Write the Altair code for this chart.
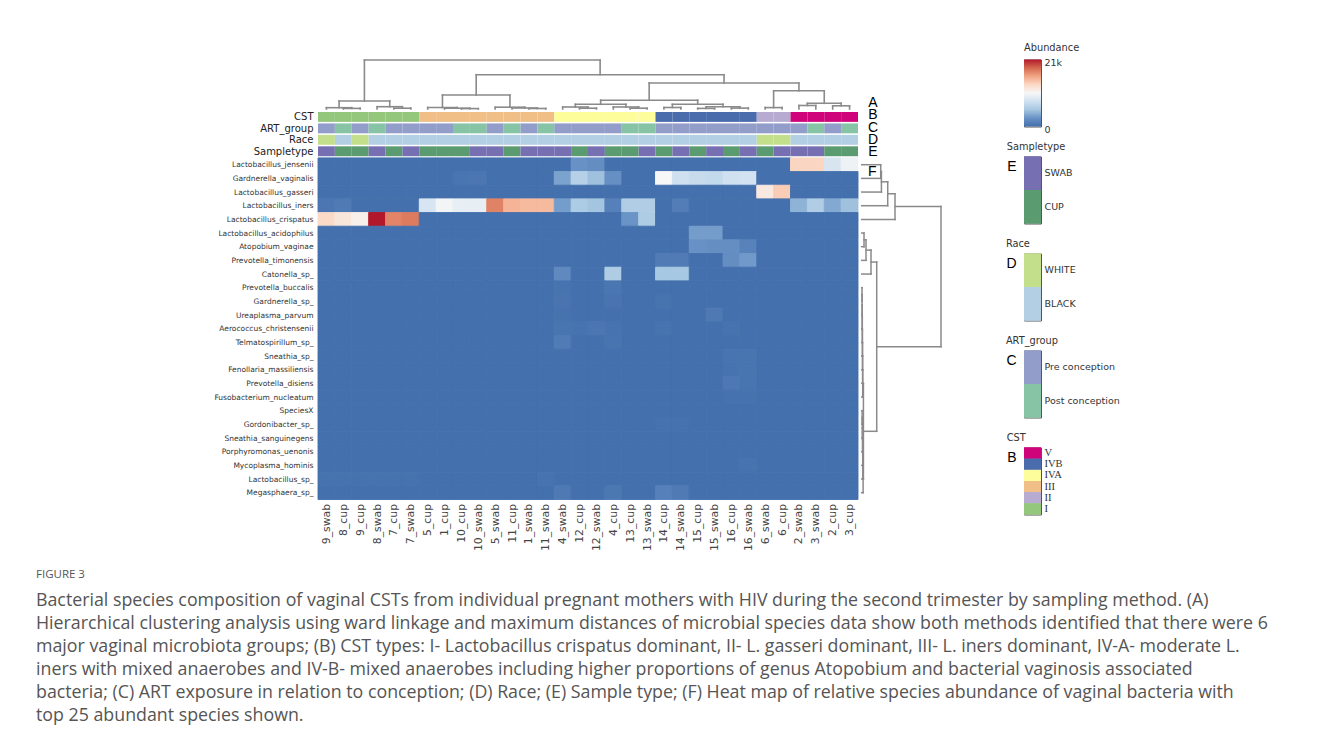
import json
import altair as alt
import pandas as pd

# ---------------- data ----------------
samples = ["9_swab", "8_cup", "9_cup", "8_swab", "7_cup", "7_swab", "5_cup", "1_cup",
           "10_cup", "10_swab", "5_swab", "11_cup", "1_swab", "11_swab", "4_swab", "12_cup",
           "12_swab", "4_cup", "13_cup", "13_swab", "14_cup", "14_swab", "15_cup", "15_swab",
           "16_cup", "16_swab", "6_swab", "6_cup", "2_swab", "3_swab", "2_cup", "3_cup"]

species = ["Lactobacillus_jensenii", "Gardnerella_vaginalis", "Lactobacillus_gasseri",
           "Lactobacillus_iners", "Lactobacillus_crispatus", "Lactobacillus_acidophilus",
           "Atopobium_vaginae", "Prevotella_timonensis", "Catonella_sp_", "Prevotella_buccalis",
           "Gardnerella_sp_", "Ureaplasma_parvum", "Aerococcus_christensenii",
           "Telmatospirillum_sp_", "Sneathia_sp_", "Fenollaria_massiliensis",
           "Prevotella_disiens", "Fusobacterium_nucleatum", "SpeciesX", "Gordonibacter_sp_",
           "Sneathia_sanguinegens", "Porphyromonas_uenonis", "Mycoplasma_hominis",
           "Lactobacillus_sp_", "Megasphaera_sp_"]

cst = ["I", "I", "I", "I", "I", "I", "III", "III",
       "III", "III", "III", "III", "III", "III", "IVA", "IVA",
       "IVA", "IVA", "IVA", "IVA", "IVB", "IVB", "IVB", "IVB",
       "IVB", "IVB", "II", "II", "V", "V", "V", "V"]
art_group = ["Pre conception", "Post conception", "Pre conception", "Post conception",
             "Pre conception", "Pre conception", "Pre conception", "Pre conception",
             "Post conception", "Post conception", "Pre conception", "Post conception",
             "Pre conception", "Post conception", "Pre conception", "Pre conception",
             "Pre conception", "Pre conception", "Post conception", "Post conception",
             "Pre conception", "Pre conception", "Pre conception", "Pre conception",
             "Pre conception", "Pre conception", "Pre conception", "Pre conception",
             "Pre conception", "Post conception", "Pre conception", "Post conception"]
race = ["WHITE", "BLACK", "WHITE", "BLACK", "BLACK", "BLACK", "BLACK", "BLACK",
        "BLACK", "BLACK", "BLACK", "BLACK", "BLACK", "BLACK", "BLACK", "BLACK",
        "BLACK", "BLACK", "BLACK", "BLACK", "BLACK", "BLACK", "BLACK", "BLACK",
        "BLACK", "BLACK", "WHITE", "WHITE", "BLACK", "BLACK", "BLACK", "BLACK"]
sampletype = ["SWAB", "CUP", "CUP", "SWAB", "CUP", "SWAB", "CUP", "CUP",
              "CUP", "SWAB", "SWAB", "CUP", "SWAB", "SWAB", "SWAB", "CUP",
              "SWAB", "CUP", "CUP", "SWAB", "CUP", "SWAB", "CUP", "SWAB",
              "CUP", "SWAB", "CUP", "SWAB", "SWAB", "SWAB", "CUP", "CUP"]

# abundance per species, one value per sample (same order as `samples`)
ab_jensenii = [0, 0, 0, 0, 0, 0, 0, 0, 0, 0, 0, 0, 0, 0, 0, 2600,
               2300, 0, 0, 0, 0, 0, 0, 0, 0, 0, 0, 0, 13300, 13300, 8400, 9900]
ab_g_vaginalis = [0, 0, 0, 0, 0, 0, 0, 0, 400, 500, 0, 0, 0, 0, 3500, 6300,
                  5000, 2500, 0, 0, 10500, 7800, 7300, 7100, 7800, 8000, 0, 0, 0, 0, 0, 0]
ab_gasseri = [0, 0, 0, 0, 0, 0, 0, 0, 0, 0, 0, 0, 0, 0, 0, 0,
              0, 0, 0, 0, 0, 0, 0, 0, 0, 0, 11800, 13800, 0, 0, 0, 0]
ab_iners = [500, 800, 0, 0, 0, 0, 8300, 10200, 9400, 9400, 17300, 15000, 14700, 14700, 3200, 5700,
            5200, 1300, 5900, 5900, 0, 1000, 0, 0, 0, 0, 0, 0, 4300, 5900, 3800, 5000]
ab_crispatus = [13000, 12000, 11200, 21000, 17200, 17600, 0, 0, 0, 0, 0, 0, 0, 0, 0, 0,
                0, 0, 2700, 5800, 0, 0, 0, 0, 0, 0, 0, 0, 0, 0, 0, 0]
ab_acidophilus = [0, 0, 0, 0, 0, 0, 0, 0, 0, 0, 0, 0, 0, 0, 0, 0,
                  0, 0, 0, 0, 0, 0, 3200, 3200, 0, 0, 0, 0, 0, 0, 0, 0]
ab_atopobium = [0, 0, 0, 0, 0, 0, 0, 0, 0, 0, 0, 0, 0, 0, 0, 0,
                0, 0, 0, 0, 0, 0, 2600, 2400, 2400, 1400, 0, 0, 0, 0, 0, 0]
ab_p_timonensis = [0, 0, 0, 0, 0, 0, 0, 0, 0, 0, 0, 0, 0, 0, 0, 0,
                   0, 0, 0, 0, 900, 900, 0, 0, 2300, 3000, 0, 0, 0, 0, 0, 0]
ab_catonella = [0, 0, 0, 0, 0, 0, 0, 0, 0, 0, 0, 0, 0, 0, 2000, 0,
                0, 5800, 0, 0, 5400, 5400, 0, 0, 0, 0, 0, 0, 0, 0, 0, 0]
ab_p_buccalis = [0, 0, 0, 0, 0, 0, 0, 0, 0, 0, 0, 0, 0, 0, 250, 0,
                 0, 450, 0, 0, 0, 0, 0, 0, 0, 0, 0, 0, 0, 0, 0, 0]
ab_gardnerella_sp = [0, 0, 0, 0, 0, 0, 0, 0, 0, 0, 0, 0, 0, 0, 350, 0,
                     0, 350, 0, 0, 200, 0, 0, 0, 0, 0, 0, 0, 0, 0, 0, 0]
ab_ureaplasma = [0, 0, 0, 0, 0, 0, 0, 0, 0, 0, 0, 0, 0, 0, 150, 0,
                 0, 0, 0, 0, 0, 0, 0, 700, 0, 0, 0, 0, 0, 0, 0, 0]
ab_aerococcus = [0, 0, 0, 0, 0, 0, 0, 0, 0, 0, 0, 0, 0, 0, 300, 250,
                 500, 250, 0, 0, 200, 0, 0, 0, 250, 0, 0, 0, 0, 0, 0, 0]
ab_telmatospirillum = [0, 0, 0, 0, 0, 0, 0, 0, 0, 0, 0, 0, 0, 0, 900, 0,
                       0, 300, 0, 0, 0, 0, 0, 0, 0, 0, 0, 0, 0, 0, 0, 0]
ab_sneathia_sp = [0, 0, 0, 0, 0, 0, 0, 0, 0, 0, 0, 0, 0, 0, 0, 0,
                  0, 0, 0, 0, 0, 0, 0, 0, 300, 300, 0, 0, 0, 0, 0, 0]
ab_fenollaria = [0, 0, 0, 0, 0, 0, 0, 0, 0, 0, 0, 0, 0, 0, 0, 0,
                 0, 0, 0, 0, 0, 0, 0, 0, 250, 300, 0, 0, 0, 0, 0, 0]
ab_p_disiens = [0, 0, 0, 0, 0, 0, 0, 0, 0, 0, 0, 0, 0, 0, 0, 0,
                0, 0, 0, 0, 0, 0, 0, 0, 650, 300, 0, 0, 0, 0, 0, 0]
ab_fusobacterium = [0, 0, 0, 0, 0, 0, 0, 0, 0, 0, 0, 0, 0, 0, 0, 0,
                    0, 0, 0, 0, 0, 0, 0, 0, 150, 150, 0, 0, 0, 0, 0, 0]
ab_speciesx = [0, 0, 0, 0, 0, 0, 0, 0, 0, 0, 0, 0, 0, 0, 0, 0,
               0, 0, 0, 0, 0, 0, 0, 0, 0, 0, 0, 0, 0, 0, 0, 0]
ab_gordonibacter = [0, 0, 0, 0, 0, 0, 0, 0, 0, 0, 0, 0, 0, 0, 0, 0,
                    0, 0, 0, 0, 150, 150, 0, 0, 0, 0, 0, 0, 0, 0, 0, 0]
ab_s_sanguinegens = [0, 0, 0, 0, 0, 0, 0, 0, 0, 0, 0, 0, 0, 0, 0, 0,
                     0, 0, 0, 0, 0, 0, 0, 0, 0, 0, 0, 0, 0, 0, 0, 0]
ab_porphyromonas = [0, 0, 0, 0, 0, 0, 0, 0, 0, 0, 0, 0, 0, 0, 0, 0,
                    0, 0, 0, 0, 0, 0, 0, 0, 0, 0, 0, 0, 0, 0, 0, 0]
ab_mycoplasma = [0, 0, 0, 0, 0, 0, 0, 0, 0, 0, 0, 0, 0, 0, 0, 0,
                 0, 0, 0, 0, 0, 0, 0, 0, 0, 250, 0, 0, 0, 0, 0, 0]
ab_lactobacillus_sp = [150, 150, 150, 150, 150, 150, 0, 0, 0, 0, 0, 0, 0, 200, 0, 0,
                       0, 0, 0, 0, 0, 0, 0, 0, 0, 0, 0, 0, 0, 0, 0, 0]
ab_megasphaera = [0, 0, 0, 0, 0, 0, 0, 0, 0, 0, 0, 0, 0, 0, 700, 0,
                  0, 600, 0, 0, 1300, 800, 0, 0, 0, 0, 0, 0, 0, 0, 0, 0]

abundance_rows = [ab_jensenii, ab_g_vaginalis, ab_gasseri, ab_iners, ab_crispatus,
                  ab_acidophilus, ab_atopobium, ab_p_timonensis, ab_catonella, ab_p_buccalis,
                  ab_gardnerella_sp, ab_ureaplasma, ab_aerococcus, ab_telmatospirillum,
                  ab_sneathia_sp, ab_fenollaria, ab_p_disiens, ab_fusobacterium, ab_speciesx,
                  ab_gordonibacter, ab_s_sanguinegens, ab_porphyromonas, ab_mycoplasma,
                  ab_lactobacillus_sp, ab_megasphaera]

# column dendrogram: (child, child, merge distance); "mK" = K-th merge
top_merges = [
    ("8_cup", "9_cup", 0.6), ("9_swab", "m0", 1.3), ("7_cup", "7_swab", 0.8),
    ("8_swab", "m2", 2.3), ("m1", "m3", 8.0),
    ("10_cup", "10_swab", 0.4), ("1_cup", "m5", 0.8), ("5_cup", "m6", 1.5),
    ("1_swab", "11_swab", 0.5), ("11_cup", "m8", 1.0), ("5_swab", "m9", 1.8),
    ("m7", "m10", 14.0),
    ("12_cup", "12_swab", 0.8), ("4_swab", "m12", 2.0), ("13_cup", "13_swab", 0.8),
    ("4_cup", "m14", 2.0), ("m13", "m15", 4.7),
    ("14_cup", "14_swab", 1.5), ("15_cup", "15_swab", 0.6), ("16_cup", "16_swab", 0.9),
    ("m18", "m19", 2.3), ("m17", "m20", 4.7), ("m16", "m21", 8.8),
    ("6_swab", "6_cup", 1.4), ("2_swab", "3_swab", 3.5), ("2_cup", "3_cup", 3.2),
    ("m24", "m25", 5.7), ("m23", "m26", 18.2), ("m22", "m27", 26.0),
    ("m11", "m28", 34.3), ("m4", "m29", 49.0),
]
# row dendrogram: "rK" = K-th merge
row_merges = [
    ("Lactobacillus_jensenii", "Gardnerella_vaginalis", 19.0), ("r0", "Lactobacillus_gasseri", 19.7),
    ("r1", "Lactobacillus_iners", 26.0), ("r2", "Lactobacillus_crispatus", 33.3),
    ("Lactobacillus_acidophilus", "Atopobium_vaginae", 2.3), ("r4", "Prevotella_timonensis", 4.3),
    ("r5", "Catonella_sp_", 9.3),
    ("Prevotella_buccalis", "Gardnerella_sp_", 0.3), ("r7", "Ureaplasma_parvum", 0.4),
    ("r8", "Aerococcus_christensenii", 0.5), ("r9", "Telmatospirillum_sp_", 0.6),
    ("r10", "Sneathia_sp_", 0.7), ("r11", "Fenollaria_massiliensis", 0.8),
    ("r12", "Prevotella_disiens", 0.9), ("r13", "Fusobacterium_nucleatum", 1.0),
    ("SpeciesX", "Gordonibacter_sp_", 0.4), ("r15", "Sneathia_sanguinegens", 0.6),
    ("r16", "Porphyromonas_uenonis", 0.8), ("r17", "Mycoplasma_hominis", 1.0),
    ("r18", "Lactobacillus_sp_", 1.2), ("r19", "Megasphaera_sp_", 1.4),
    ("r14", "r20", 1.7), ("r6", "r21", 15.0), ("r3", "r22", 79.3),
]

annotation_names = ["CST", "ART_group", "Race", "Sampletype"]
annotation_letters = ["A", "B", "C", "D", "E", "F"]

cst_levels = ["V", "IVB", "IVA", "III", "II", "I"]
cst_colors = ["#d0047a", "#4a6cad", "#fdfd9c", "#f0bf88", "#b7abd1", "#94c67c"]
art_levels = ["Pre conception", "Post conception"]
art_colors = ["#929dca", "#87c4a6"]
race_levels = ["WHITE", "BLACK"]
race_colors = ["#c3df8b", "#b2cfe4"]
sample_levels = ["SWAB", "CUP"]
sample_colors = ["#7670b2", "#5b9b70"]

abund_min, abund_max = 0, 21000
heat_stops = [0, 2625, 5250, 7875, 10500, 13125, 15750, 18375, 21000]
heat_colors = ["#4470ad", "#6891c5", "#a5c6e1", "#d0e1f0", "#f7f7f7",
               "#fbd9c6", "#f2a585", "#d4694f", "#b2182b"]

caption_lines = [
    "Bacterial species composition of vaginal CSTs from individual pregnant mothers with HIV during the second trimester by sampling method. (A)",
    "Hierarchical clustering analysis using ward linkage and maximum distances of microbial species data show both methods identified that there were 6",
    "major vaginal microbiota groups; (B) CST types: I- Lactobacillus crispatus dominant, II- L. gasseri dominant, III- L. iners dominant, IV-A- moderate L.",
    "iners with mixed anaerobes and IV-B- mixed anaerobes including higher proportions of genus Atopobium and bacterial vaginosis associated",
    "bacteria; (C) ART exposure in relation to conception; (D) Race; (E) Sample type; (F) Heat map of relative species abundance of vaginal bacteria with",
    "top 25 abundant species shown.",
]

# ---------------- layout (pixels / units) ----------------
COLW = 16.875                 # px per sample column
W_MAIN = 624
XMAX = W_MAIN / COLW
H_MAIN = 440
YMIN = -7.2                   # rows of room above the heat map
ROWH = H_MAIN / (25 - YMIN)
ANN_TOP, ANN_PITCH, ANN_H = -3.36, 0.838, 0.725
TOP_BASE = -3.578             # leaf level of the column dendrogram (row units)
ROW_BASE = 32.22              # leaf level of the row dendrogram (column units)
LETTER_X = [32.89, 32.89, 32.89, 32.89, 32.89, 32.84]
LETTER_Y = [-4.03, -3.12, -2.22, -1.32, -0.42, 1.03]

FONT = "DejaVu Sans"
TXT = "#333333"
LINE = "#8a8a8a"

# ---------------- tables ----------------
heat_records = []
for j, vals in enumerate(abundance_rows):
    for i, v in enumerate(vals):
        heat_records.append({"x": i, "x2": i + 1, "y": j, "y2": j + 1, "value": v,
                             "species": species[j], "sample": samples[i]})
heat_df = pd.DataFrame(heat_records)

ann_records = []
for k, vals in enumerate([cst, art_group, race, sampletype]):
    for i, v in enumerate(vals):
        top = ANN_TOP + k * ANN_PITCH
        ann_records.append({"x": i, "x2": i + 1, "y": top, "y2": top + ANN_H, "cat": v})
ann_df = pd.DataFrame(ann_records)


def dendro(leaves, merges, prefix):
    pos = {n: (i + 0.5, 0.0) for i, n in enumerate(leaves)}
    segs = []
    for k, (a, b, h) in enumerate(merges):
        pa, ha = pos[a]
        pb, hb = pos[b]
        segs += [(pa, ha, pa, h), (pa, h, pb, h), (pb, h, pb, hb)]
        pos[f"{prefix}{k}"] = ((pa + pb) / 2, h)
    return segs


top_df = pd.DataFrame([{"x": a, "y": TOP_BASE - h / ROWH, "x2": a2, "y2": TOP_BASE - h2 / ROWH}
                       for a, h, a2, h2 in dendro(samples, top_merges, "m")])
row_df = pd.DataFrame([{"y": a, "x": ROW_BASE + h / COLW, "y2": a2, "x2": ROW_BASE + h2 / COLW}
                       for a, h, a2, h2 in dendro(species, row_merges, "r")])

ann_centers = [round(ANN_TOP + k * ANN_PITCH + ANN_H / 2, 4) for k in range(4)]
letters_df = pd.DataFrame({"t": annotation_letters, "x": LETTER_X, "y": LETTER_Y})

# ---------------- scales & axes ----------------
XS = alt.Scale(domain=[0, XMAX], nice=False, zero=False)
YS = alt.Scale(domain=[YMIN, 25], nice=False, zero=False, reverse=True)
HEAT = alt.Scale(domain=heat_stops, range=heat_colors, interpolate="rgb")
ANN = alt.Scale(domain=cst_levels + art_levels + race_levels + sample_levels,
                range=cst_colors + art_colors + race_colors + sample_colors)

y_values = [j + 0.5 for j in range(25)] + ann_centers
AX_X = alt.Axis(values=[i + 0.5 for i in range(32)],
                labelExpr=f"{json.dumps(samples)}[floor(datum.value)]",
                labelAngle=270, labelFont=FONT, labelFontSize=10.8, labelColor="#444444",
                labelPadding=4, labelOverlap=False, ticks=False, domain=False, grid=False,
                title=None)
AX_Y = alt.Axis(values=y_values,
                labelExpr=(f"datum.value >= 0 ? {json.dumps(species)}[floor(datum.value)] : "
                           f"{json.dumps(annotation_names)}[round((datum.value - ({ann_centers[0]})) / {ANN_PITCH})]"),
                labelFont=FONT,
                labelFontSize={"condition": {"test": "datum.value < 0", "value": 10}, "value": 7.5},
                labelColor={"condition": {"test": "datum.value < 0", "value": "#222222"}, "value": TXT},
                labelPadding=5, labelOverlap=False, ticks=False, domain=False, grid=False,
                title=None, minExtent=282, maxExtent=282)


def xy():
    return dict(x=alt.X("x:Q", scale=XS, axis=AX_X), x2="x2:Q",
                y=alt.Y("y:Q", scale=YS, axis=AX_Y), y2="y2:Q")


heat = alt.Chart(heat_df).mark_rect(strokeWidth=0.9).encode(
    color=alt.Color("value:Q", scale=HEAT, legend=None),
    stroke=alt.Stroke("value:Q", scale=HEAT, legend=None),
    **xy())
ann = alt.Chart(ann_df).mark_rect().encode(
    color=alt.Color("cat:N", scale=ANN, legend=None), **xy())
top_d = alt.Chart(top_df).mark_rule(color=LINE, strokeWidth=1.6, strokeCap="square").encode(**xy())
row_d = alt.Chart(row_df).mark_rule(color=LINE, strokeWidth=1.5, strokeCap="square").encode(**xy())
letters = alt.Chart(letters_df).mark_text(font="Liberation Sans", fontSize=14, color="black").encode(
    x=alt.X("x:Q", scale=XS, axis=AX_X), y=alt.Y("y:Q", scale=YS, axis=AX_Y), text="t:N")

main = alt.layer(heat, ann, top_d, row_d, letters).resolve_scale(
    color="independent", stroke="independent").properties(
    width=W_MAIN, height=H_MAIN, view=alt.ViewBackground(stroke="transparent", strokeWidth=0))

# ---------------- legends ----------------
LEG_W, LEG_H = 17, 67
LEG_VIEW = alt.ViewBackground(stroke="#555555", strokeWidth=1)


def leg_title(t):
    return alt.TitleParams(t, anchor="start", font=FONT, fontSize=9.8, fontWeight="normal",
                           color=TXT, offset=5)


band0 = alt.Scale(paddingInner=0, paddingOuter=0)

abund_df = pd.DataFrame({"lo": [abund_min], "hi": [abund_max], "k": ["a"]})
grad = {"gradient": "linear", "x1": 0, "x2": 0, "y1": 1, "y2": 0,
        "stops": [{"offset": s / abund_max, "color": c} for s, c in zip(heat_stops, heat_colors)]}
abund_leg = alt.Chart(abund_df).mark_rect(fill=grad).encode(
    x=alt.X("k:N", axis=None, scale=band0),
    y=alt.Y("lo:Q", scale=alt.Scale(domain=[abund_min, abund_max], nice=False, zero=False),
            axis=alt.Axis(orient="right", values=[abund_min, abund_max],
                          labelExpr="datum.value >= 1000 ? format(datum.value / 1000, 'd') + 'k' : format(datum.value, 'd')",
                          labelFlush=False, labelOffset=3, ticks=False, domain=False, grid=False,
                          title=None, labelPadding=3, labelFont=FONT, labelFontSize=9.5,
                          labelColor=TXT)),
    y2="hi:Q",
).properties(width=LEG_W, height=LEG_H, title=leg_title("Abundance"), view=LEG_VIEW)


def cat_legend(title, cats, letter, serif=False):
    df = pd.DataFrame({"cat": cats, "k": ["a"] * len(cats)})
    common = dict(x=alt.X("k:N", axis=None, scale=band0),
                  color=alt.Color("cat:N", scale=ANN, legend=None))
    left = alt.Chart(df).mark_rect().encode(
        y=alt.Y("cat:N", sort=cats, scale=band0,
                axis=alt.Axis(orient="left", labels=False, ticks=False, domain=False, grid=False,
                              title=letter, titleAngle=0, titleFont="Liberation Sans",
                              titleFontSize=14, titleFontWeight="normal", titleColor="black",
                              titleX=-8, titleY=9.5, titleAlign="right", titleBaseline="middle")),
        **common)
    right = alt.Chart(df).mark_rect().encode(
        y=alt.Y("cat:N", sort=cats, scale=band0,
                axis=alt.Axis(orient="right", ticks=False, domain=False, grid=False, title=None,
                              labelPadding=3,
                              labelFont="Liberation Serif" if serif else FONT,
                              labelFontSize=10.5 if serif else 9.5, labelColor=TXT)),
        **common)
    return alt.layer(left, right).resolve_axis(y="independent").properties(
        width=LEG_W, height=LEG_H, title=leg_title(title), view=LEG_VIEW)


legends = alt.vconcat(
    abund_leg,
    cat_legend("Sampletype", sample_levels, "E"),
    cat_legend("Race", race_levels, "D"),
    cat_legend("ART_group", art_levels, "C"),
    cat_legend("CST", cst_levels, "B", serif=True),
    spacing=30, bounds="flush",
)

chart = alt.hconcat(main, legends, spacing=62).properties(
    padding={"left": 28, "top": 33.5, "right": 10, "bottom": 10},
    title=alt.TitleParams(
        "FIGURE 3", subtitle=caption_lines, orient="bottom", anchor="start",
        font="Open Sans", fontSize=11.5, fontWeight="normal", color="#555555", offset=18,
        subtitleFont="Open Sans", subtitleFontSize=17.8, subtitleColor="#555555",
        subtitleLineHeight=23, subtitlePadding=12),
).configure_view(stroke="transparent").configure(background="white")

chart.save("out.html", embed_options={"renderer": "svg", "actions": False})
